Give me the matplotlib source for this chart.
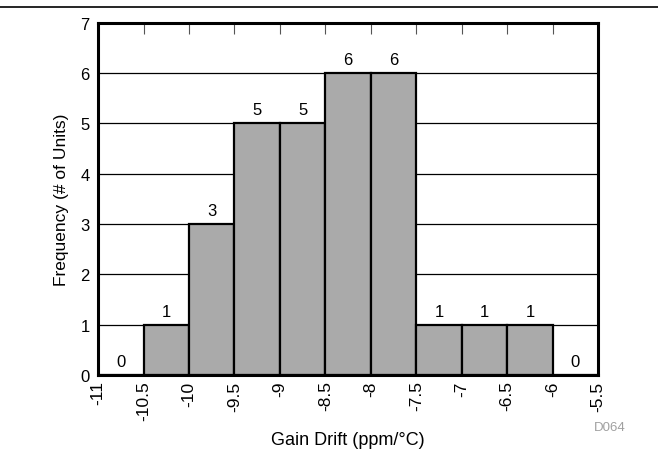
import numpy as np
import matplotlib.pyplot as plt

plt.rcParams['font.family'] = ['Liberation Sans', 'DejaVu Sans']

# histogram bins (left edges) and counts
bin_left = [-11.0, -10.5, -10.0, -9.5, -9.0, -8.5, -8.0, -7.5, -7.0, -6.5, -6.0]
counts = [0, 1, 3, 5, 5, 6, 6, 1, 1, 1, 0]
xticks = [-11, -10.5, -10, -9.5, -9, -8.5, -8, -7.5, -7, -6.5, -6, -5.5]
xtick_labels = ['-11', '-10.5', '-10', '-9.5', '-9', '-8.5', '-8', '-7.5', '-7', '-6.5', '-6', '-5.5']

fig = plt.figure(figsize=(6.58, 4.6), dpi=100)
ax = fig.add_axes([0.149, 0.183, 0.760, 0.765])

# horizontal grid
for y in range(1, 7):
    ax.axhline(y, color='black', lw=0.9, zorder=0)

ax.bar(bin_left, counts, width=0.5, align='edge', color='#aaaaaa',
       edgecolor='black', linewidth=1.6, zorder=2)

for x, c in zip(bin_left, counts):
    ax.text(x + 0.25, c + 0.12, str(c), ha='center', va='bottom', fontsize=12)

ax.set_xlim(-11, -5.5)
ax.set_ylim(0, 7)
ax.set_xticks(xticks)
ax.set_xticklabels(xtick_labels, rotation=90, fontsize=12.5)
ax.set_yticks(range(8))
ax.tick_params(axis='y', length=0, labelsize=12, pad=6)
ax.tick_params(axis='x', length=0, pad=4)
# inward ticks along the top edge
sec = ax.secondary_xaxis('top')
sec.set_xticks(xticks)
sec.set_xticklabels([])
sec.tick_params(direction='in', length=8, width=0.8, color='#555555')
sec.spines['top'].set_visible(False)

for s in ax.spines.values():
    s.set_linewidth(2.2)
    s.set_zorder(5)

ax.set_xlabel('Gain Drift (ppm/°C)', fontsize=13, labelpad=8)
ax.set_ylabel('Frequency (# of Units)', fontsize=12.5, labelpad=8)

fig.text(0.951, 0.069, 'D064', color='#a0a0a0', fontsize=9.5, ha='right', va='center')
fig.add_artist(plt.Line2D([0, 1], [0.983, 0.983], color='black', lw=1.2))

fig.savefig('out.png', dpi=100)
